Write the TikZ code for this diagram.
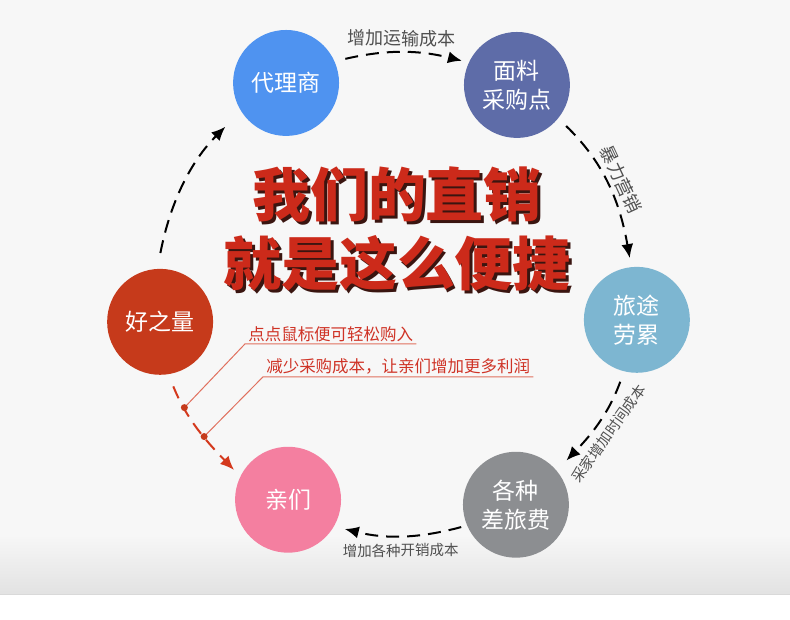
\documentclass[tikz,border=0pt]{standalone}
\usepackage{fontspec}
\usetikzlibrary{arrows.meta}
\newfontfamily\cjk{Noto Sans CJK SC}
\definecolor{cblue}{HTML}{4F93F0}
\definecolor{cslate}{HTML}{5E6CA8}
\definecolor{clblue}{HTML}{7DB6D1}
\definecolor{cgray}{HTML}{8C8E91}
\definecolor{cpink}{HTML}{F47FA0}
\definecolor{cred}{HTML}{C63A1B}
\definecolor{titlered}{HTML}{CC2A1A}
\definecolor{titleshade}{HTML}{3A1510}
\definecolor{labelgray}{HTML}{505050}
\definecolor{callred}{HTML}{CF3326}
\definecolor{callline}{HTML}{E0705E}
\definecolor{arrowred}{HTML}{D4391D}
\definecolor{panel}{HTML}{F7F7F7}
\definecolor{panelshade}{HTML}{E2E2E2}

\begin{document}
\begin{tikzpicture}[x=1pt, y=1pt,
circ/.style={circle, minimum size=106pt, inner sep=0pt, text=white, align=center, font=\cjk\fontsize{23}{29}\selectfont},
title/.style={font=\cjk\bfseries\fontsize{58}{58}\selectfont, text=titlered},
titleshadow/.style={font=\cjk\bfseries\fontsize{58}{58}\selectfont, text=titleshade},
arrow/.style={-{Latex[length=14pt,width=12pt]}, line width=2pt, dash pattern=on 13pt off 8pt},
arrowlabel/.style={font=\cjk\fontsize{18}{18}\selectfont, text=labelgray, sloped, inner sep=5pt},
smalllabel/.style={font=\cjk\fontsize{14.5}{14.5}\selectfont, text=labelgray, sloped, inner sep=7pt},
callout/.style={font=\cjk\fontsize{16.5}{16.5}\selectfont, text=callred, anchor=south west, inner xsep=3pt, inner ysep=2pt},
calloutline/.style={callline, line width=1pt} ]

\fill[white] (0,0) rectangle (790,620);

\fill[panel] (0,25) rectangle (790,620);

\shade[top color=panel, bottom color=panelshade] (0,25) rectangle (790,85);

\draw[panelshade!80!black!20!panelshade] (0,25) -- (790,25);

\node[circ, fill=cblue] (dls) at (286,537) {代理商};

\node[circ, fill=cslate] (mlc) at (517,535) {面料\\采购点};

\node[circ, fill=clblue] (ltl) at (637,300) {旅途\\劳累};

\node[circ, fill=cgray] (gzc) at (516,115) {各种\\差旅费};

\node[circ, fill=cpink] (qm) at (288,120) {亲们};

\node[circ, fill=cred] (hzl) at (160,298) {好之量};

\node[titleshadow] (s1) at (400,422) {我们的直销};

\node[title] (t1) at (397,425) {我们的直销};

\node[titleshadow] (s2) at (400,354) {就是这么便捷};

\node[title] (t2) at (397,357) {就是这么便捷};

\draw[arrow, shorten <=11pt, shorten >=7pt] (dls.24) to[out=13, in=166] node[arrowlabel, above] {增加运输成本} (mlc.155);

\draw[arrow, shorten <=11pt, shorten >=9pt] (mlc.-39) to[out=-44, in=100] node[arrowlabel, above] {暴力营销} (ltl.96);

\draw[arrow, shorten <=11pt, shorten >=14pt] (ltl.256) to[out=-110, in=46] node[smalllabel, below] {采家增加时间成本} (gzc.40);

\draw[arrow, shorten <=6pt, shorten >=11pt] (gzc.203) to[out=195, in=-14] node[smalllabel, below] {增加各种开销成本} (qm.-30);

\draw[arrow, shorten <=16pt, shorten >=22pt] (hzl.93) to[out=79, in=225] (dls.212);

\draw[arrow, arrowred, shorten <=13pt, shorten >=9pt] (hzl.-81) to[out=-68, in=134] coordinate[pos=0.28] (d1) coordinate[pos=0.58] (d2) (qm.154);

\node[callout] (c1) at (245,276) {点点鼠标便可轻松购入};

\node[callout] (c2) at (263,243) {减少采购成本，让亲们增加更多利润};

\draw[calloutline] (d1) -- (c1.south west) -- (c1.south east);

\draw[calloutline] (d2) -- (c2.south west) -- (c2.south east);

\fill[cred] (d1) circle (3.5);

\fill[cred] (d2) circle (3.5);

\end{tikzpicture}
\end{document}
